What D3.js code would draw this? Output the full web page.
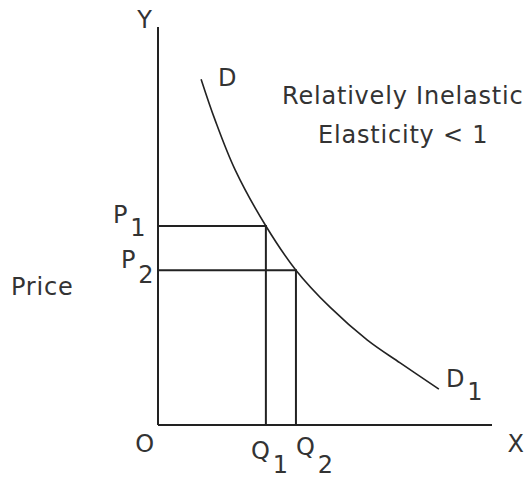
<!DOCTYPE html>
<html>
<head>
<meta charset="utf-8">
<script src="https://cdn.jsdelivr.net/npm/d3@7"></script>
<style>
  html, body { margin: 0; padding: 0; background: #fff; }
  svg { display: block; }
  text { font-family: "DejaVu Sans", Verdana, sans-serif; fill: #333; letter-spacing: 0.8px; }
</style>
</head>
<body>
<svg id="chart" width="528" height="478"></svg>
<script>
// Demand curve D–D1, read as (quantity, price) pairs on a 0–10 scale
const quantity = [1.29, 1.71, 2.31, 3.23, 4.13, 5.15, 6.26, 7.25, 8.41];
const price    = [8.69, 7.66, 6.41, 5.00, 3.89, 2.96, 2.14, 1.56, 0.90];

// The two price/quantity combinations marked on the curve
const pricePoints    = [5.00, 3.89];   // P1, P2
const quantityPoints = [3.23, 4.13];   // Q1, Q2
const priceLabels    = ["1", "2"];
const quantityLabels = ["1", "2"];

const svg = d3.select("#chart");

const x = d3.scaleLinear().domain([0, 10]).range([158, 492]);
const y = d3.scaleLinear().domain([0, 10]).range([425, 27]);

const ink = "#222";
const fs = 24;

// Axes
svg.append("line")
  .attr("x1", x(0)).attr("y1", y(0)).attr("x2", x(0)).attr("y2", y(10))
  .attr("stroke", ink).attr("stroke-width", 2);
svg.append("line")
  .attr("x1", x(0)).attr("y1", y(0)).attr("x2", x(10)).attr("y2", y(0))
  .attr("stroke", ink).attr("stroke-width", 2);

// Guide lines from each point to the axes
pricePoints.forEach((p, i) => {
  const q = quantityPoints[i];
  svg.append("path")
    .attr("d", `M${x(0)},${y(p)}H${x(q)}V${y(0)}`)
    .attr("fill", "none").attr("stroke", ink).attr("stroke-width", 2);
});

// Demand curve
const pts = quantity.map((q, i) => [q, price[i]]);
svg.append("path")
  .datum(pts)
  .attr("d", d3.line().x(d => x(d[0])).y(d => y(d[1])).curve(d3.curveCatmullRom.alpha(0.5)))
  .attr("fill", "none").attr("stroke", ink).attr("stroke-width", 1.6);

// Labels with a lowered subscript drawn at the same size
function subLabel(main, sub, lx, ly, drop) {
  const t = svg.append("text").attr("x", lx).attr("y", ly).attr("font-size", fs);
  t.append("tspan").text(main);
  t.append("tspan").attr("dx", 2).attr("dy", drop).text(sub);
}

svg.append("text").attr("x", 145).attr("y", 28).attr("text-anchor", "middle")
  .attr("font-size", fs).text("Y");
svg.append("text").attr("x", 145).attr("y", 452).attr("text-anchor", "middle")
  .attr("font-size", fs).text("O");
svg.append("text").attr("x", 516).attr("y", 452).attr("text-anchor", "middle")
  .attr("font-size", fs).text("X");
svg.append("text").attr("x", 11).attr("y", 295).attr("font-size", fs).text("Price");

svg.append("text").attr("x", x(quantity[0]) + 17).attr("y", 86)
  .attr("font-size", fs).text("D");
subLabel("D", "1", 446, 387, 13);

subLabel("P", priceLabels[0], 113, y(pricePoints[0]) - 3, 13);
subLabel("P", priceLabels[1], 121, y(pricePoints[1]) - 2, 15);
subLabel("Q", quantityLabels[0], 251, 459, 14);
subLabel("Q", quantityLabels[1], 296, 455, 18);

svg.append("text").attr("x", 282).attr("y", 104).attr("font-size", fs)
  .text("Relatively Inelastic");
svg.append("text").attr("x", 318).attr("y", 143).attr("font-size", fs)
  .text("Elasticity < 1");
</script>
</body>
</html>
